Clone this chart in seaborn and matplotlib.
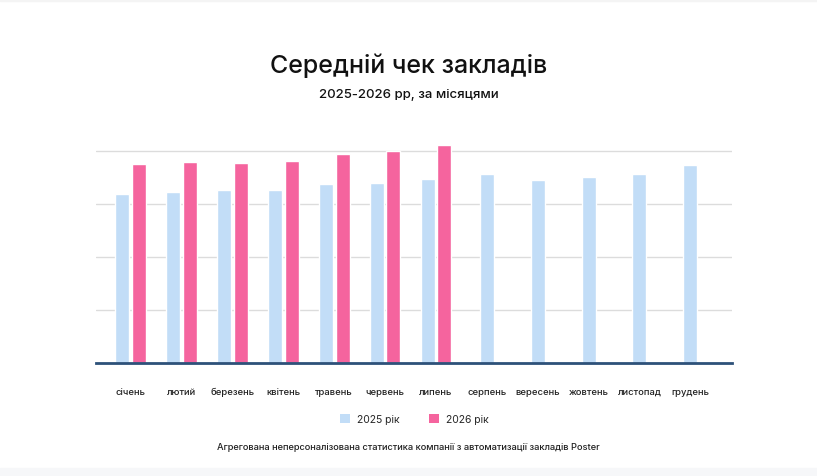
import matplotlib
matplotlib.use("Agg")
import matplotlib.pyplot as plt
import seaborn as sns
import pandas as pd
from matplotlib.patches import Rectangle, Patch

months = ["січень", "лютий", "березень", "квітень", "травень", "червень",
          "липень", "серпень", "вересень", "жовтень", "листопад", "грудень"]
values_2025 = [318, 323, 325, 325, 337, 339, 347, 357, 345, 351, 357, 373]
values_2026 = [375, 379, 377, 380, 394, 400, 410]
years = ["2025 рік", "2026 рік"]
colors = ["#c2ddf7", "#f5649e"]

title = "Середній чек закладів"
subtitle = "2025-2026 рр, за місяцями"
footer = "Агрегована неперсоналізована статистика компанії з автоматизації закладів Poster"

n_both = len(values_2026)
rows_both = []
for i in range(n_both):
    rows_both.append({"month": months[i], "year": years[0], "value": values_2025[i]})
    rows_both.append({"month": months[i], "year": years[1], "value": values_2026[i]})
df_both = pd.DataFrame(rows_both)
df_single = pd.DataFrame({"month": months[n_both:], "value": values_2025[n_both:]})

sns.set_theme(style="white")
plt.rcParams["font.family"] = ["Inter", "DejaVu Sans"]

fig = plt.figure(figsize=(8.17, 4.77), dpi=100)
fig.patch.set_facecolor("white")
fig.patches.append(Rectangle((0, 0), 1, 8 / 477, transform=fig.transFigure,
                             color="#f6f7f9", zorder=0))
fig.patches.append(Rectangle((0, 1 - 2 / 477), 1, 2 / 477, transform=fig.transFigure,
                             color="#f4f4f4", zorder=0))

ax = fig.add_axes([96 / 817, 113 / 477, 636 / 817, 224 / 477])
sns.barplot(data=df_both, x="month", y="value", hue="year", order=months,
            hue_order=years, palette=colors, width=0.655, gap=0.16,
            saturation=1, ax=ax, legend=False, errorbar=None)
sns.barplot(data=df_single, x="month", y="value", order=months,
            color=colors[0], width=0.275, saturation=1, ax=ax, errorbar=None)

ax.set_xlim(-0.682, 11.82)
ax.set_ylim(0, 422)
ax.set_yticks([100, 200, 300, 400])
ax.set_yticklabels([])
ax.set_axisbelow(True)
ax.grid(axis="y", color="#dcdcdc", linewidth=1)
ax.grid(axis="x", visible=False)
for s in ["top", "left", "right"]:
    ax.spines[s].set_visible(False)
ax.spines["bottom"].set_color("#2d5179")
ax.spines["bottom"].set_linewidth(2)
ax.set_xlabel("")
ax.set_ylabel("")
ax.tick_params(axis="x", length=0, pad=17, labelsize=6.8, labelcolor="#222222")
ax.tick_params(axis="y", length=0)
for lbl in ax.get_xticklabels():
    lbl.set_fontweight("medium")
ax.set_facecolor("none")

fig.text(0.5, 1 - 65.5 / 477, title, ha="center", va="center", fontsize=18,
         fontweight="medium", color="#111111")
fig.text(0.5, 1 - 95 / 477, subtitle, ha="center", va="center", fontsize=9.5,
         fontweight="medium", color="#111111")
fig.text(0.5, 1 - 447.7 / 477, footer, ha="center", va="center", fontsize=6.7,
         fontweight="medium", color="#222222")

handles = [Patch(facecolor=c, edgecolor="none") for c in colors]
fig.legend(handles, years, loc="center", bbox_to_anchor=(414 / 817, 1 - 420 / 477),
           ncol=2, frameon=False, fontsize=7.5, handlelength=1.05, handleheight=1.05,
           handletextpad=0.6, columnspacing=2.8)

fig.savefig("out.png", dpi=100)
